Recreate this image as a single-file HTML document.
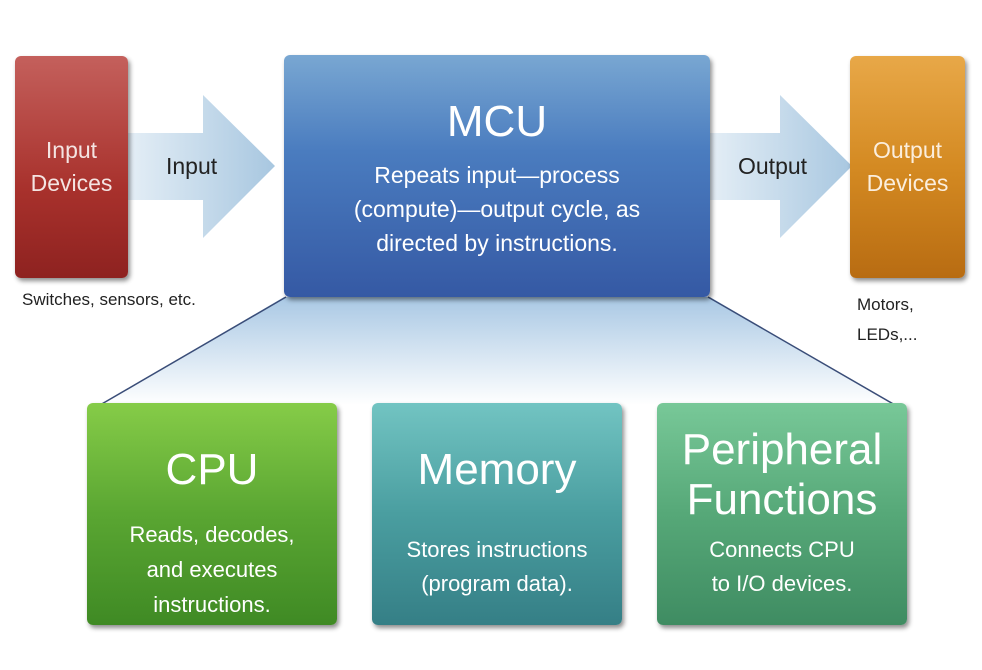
<!DOCTYPE html>
<html><head><style>
body{margin:0;width:982px;height:670px;background:#fff;position:relative;overflow:hidden;font-family:"Liberation Sans",sans-serif;}
.b{position:absolute;border-radius:6px;box-shadow:2px 3px 5px rgba(0,0,0,.45);color:#fff;text-align:center;}
.t{position:absolute;left:0;right:0;text-align:center;}
.lbl{position:absolute;color:#222;font-size:17px;}
</style></head><body>
<svg width="982" height="670" style="position:absolute;left:0;top:0">
<defs>
<linearGradient id="tr" x1="0" y1="0" x2="0" y2="1"><stop offset="0" stop-color="#a9c8e4"/><stop offset="1" stop-color="#fff"/></linearGradient>
<linearGradient id="ar1" x1="0" y1="0" x2="1" y2="0"><stop offset="0" stop-color="#e4eef6"/><stop offset="1" stop-color="#a8c7e0"/></linearGradient>
</defs>
<polygon points="284,297 710,297 895,405 100,405" fill="url(#tr)"/>
<line x1="286" y1="297" x2="100" y2="405" stroke="#3a4d78" stroke-width="1.5"/>
<line x1="708" y1="297" x2="895" y2="405" stroke="#3a4d78" stroke-width="1.5"/>
<polygon points="128,133 203,133 203,95 275,166 203,238 203,200 128,200" fill="url(#ar1)"/>
<polygon points="710,133 780,133 780,95 852,166 780,238 780,200 710,200" fill="url(#ar1)"/>
</svg>
<div class="b" style="left:15px;top:56px;width:113px;height:222px;background:linear-gradient(#c4605c,#a8312c 60%,#8e2220);">
<div class="t" style="top:78px;font-size:23px;line-height:33px;color:#f4e4e2">Input<br>Devices</div></div>
<div class="lbl" style="left:166px;top:153px;font-size:23px">Input</div>
<div class="b" style="left:284px;top:55px;width:426px;height:242px;background:linear-gradient(#79a7d2,#4a7cbf 40%,#3559a4);">
<div class="t" style="top:42px;font-size:44px">MCU</div>
<div class="t" style="top:103px;font-size:23px;line-height:34px">Repeats input—process<br>(compute)—output cycle, as<br>directed by instructions.</div></div>
<div class="lbl" style="left:738px;top:153px;font-size:23px">Output</div>
<div class="b" style="left:850px;top:56px;width:115px;height:222px;background:linear-gradient(#e8a848,#d48a22 50%,#b86c12);">
<div class="t" style="top:78px;font-size:23px;line-height:33px;color:#fbeedd">Output<br>Devices</div></div>
<div class="lbl" style="left:22px;top:290px">Switches, sensors, etc.</div>
<div class="lbl" style="left:857px;top:290px;line-height:30px">Motors,<br>LEDs,...</div>
<div class="b" style="left:87px;top:403px;width:250px;height:222px;background:linear-gradient(#86cc48,#5aa632 50%,#3f8a24);">
<div class="t" style="top:42px;font-size:44px">CPU</div>
<div class="t" style="top:114px;font-size:22px;line-height:35px">Reads, decodes,<br>and executes<br>instructions.</div></div>
<div class="b" style="left:372px;top:403px;width:250px;height:222px;background:linear-gradient(#72c4c2,#4a9ea0 50%,#357f86);">
<div class="t" style="top:42px;font-size:44px">Memory</div>
<div class="t" style="top:130px;font-size:22px;line-height:34px">Stores instructions<br>(program data).</div></div>
<div class="b" style="left:657px;top:403px;width:250px;height:222px;background:linear-gradient(#78c898,#56a878 50%,#3f8c62);">
<div class="t" style="top:22px;font-size:44px;line-height:50px">Peripheral<br>Functions</div>
<div class="t" style="top:130px;font-size:22px;line-height:34px">Connects CPU<br>to I/O devices.</div></div>
</body></html>
